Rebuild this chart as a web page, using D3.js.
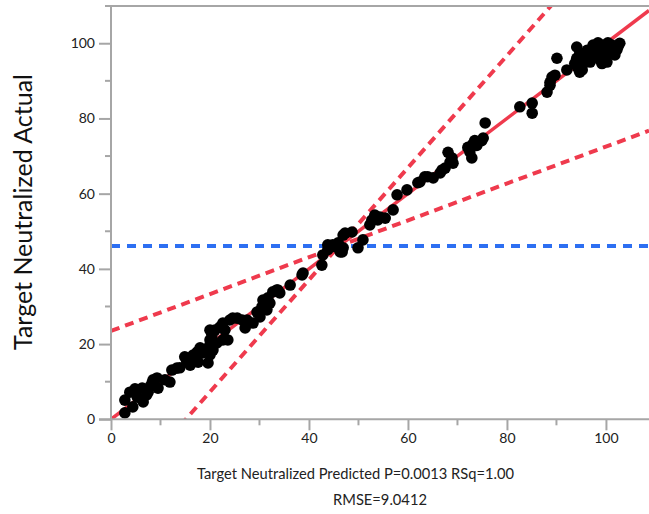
<!DOCTYPE html>
<html>
<head>
<meta charset="utf-8">
<script src="https://cdn.jsdelivr.net/npm/d3@7"></script>
<style>
  html, body { margin: 0; padding: 0; background: #fff; }
  svg { display: block; font-family: Lato, "Open Sans", sans-serif; }
</style>
</head>
<body>
<svg id="chart" width="649" height="514"></svg>
<script>
// Predicted (x) and actual (y) neutralization values for each observation
const predicted = [
  2.8, 2.8, 3.8, 4.4, 5.3, 6.3, 6.5, 7.5, 8.3, 9.3, 9.5, 11.9, 12.3, 13.9, 14.9, 16.0,
  17.4, 17.6, 19.6, 20.0, 20.4, 20.0, 20.6, 22.6,
  4.85, 7.2, 7.9, 8.5, 10.9, 13.3, 15.3, 16.6, 18.3, 19.7, 21.4,
  18.0, 20.0, 20.0, 22.0, 23.0, 23.6, 24.0, 25.5, 27.1, 27.5, 28.7, 29.5, 30.1, 30.7,
  31.5, 32.1, 32.7, 33.7, 34.1, 36.2, 38.6, 38.8, 42.6, 42.8, 43.8, 45.9, 46.3, 46.9,
  21.0, 22.6, 24.6, 26.5, 30.5, 31.7, 33.5, 43.8, 45.3,
  44.8, 46.7, 47.3, 48.7, 49.9, 50.9, 52.3, 53.3, 53.9, 55.4, 57.0, 57.8, 59.8, 62.0,
  63.4, 65.1, 66.5, 67.5, 68.5, 68.1, 69.1, 72.1, 72.9, 73.1, 74.1, 74.9,
  46.9, 52.7, 54.3, 62.4, 64.0, 66.9, 68.9, 73.5, 73.9, 72.5, 75.2,
  75.6, 82.6, 85.1, 85.1, 88.1, 88.7, 89.7, 90.1, 92.1, 94.1, 94.7, 95.2, 96.2, 96.8,
  97.8, 98.4, 99.4, 99.4, 100.4, 101.2, 102.2, 102.8,
  88.7, 89.1, 94.7, 95.4, 94.3, 96.2, 97.2, 98.2, 98.8, 99.8, 100.2, 100.8, 101.4,
  101.8, 102.4, 97.4, 98.4, 100.4, 94.1, 93.7, 94.7, 99.2
];
const actual = [
  1.7, 5.1, 7.2, 3.3, 5.9, 8.3, 4.6, 7.2, 9.7, 11.0, 8.3, 9.9, 13.1, 13.7, 16.6, 14.4,
  17.9, 15.2, 15.0, 19.8, 22.4, 17.1, 18.4, 21.1,
  8.1, 6.5, 8.7, 10.5, 10.5, 13.6, 15.3, 17.1, 17.6, 19.0, 20.3,
  19.0, 21.1, 23.7, 24.5, 23.7, 21.1, 26.4, 26.9, 24.3, 26.4, 25.6, 28.5, 27.2, 31.7,
  29.1, 30.9, 33.9, 34.4, 33.6, 35.7, 38.4, 38.9, 41.0, 43.7, 46.4, 46.9, 44.5, 49.0,
  23.7, 25.6, 26.9, 26.4, 29.9, 32.3, 34.4, 45.1, 45.9,
  46.4, 44.5, 49.5, 49.8, 45.6, 47.7, 51.7, 54.3, 53.0, 53.5, 55.7, 59.7, 61.0, 62.9,
  64.5, 64.2, 65.5, 66.8, 68.4, 71.0, 68.1, 72.3, 69.5, 73.2, 73.5, 74.1,
  45.6, 53.0, 53.8, 63.1, 64.5, 66.3, 69.5, 74.1, 72.8, 71.1, 74.8,
  78.8, 83.1, 84.1, 81.4, 87.0, 89.6, 91.5, 96.0, 92.9, 99.0, 95.6, 92.9, 96.3, 95.0,
  98.7, 99.5, 96.3, 99.5, 98.2, 99.5, 98.2, 100.0,
  88.8, 91.0, 97.3, 94.6, 93.5, 98.1, 96.9, 97.7, 95.6, 98.1, 95.0, 97.3, 98.7,
  96.9, 99.0, 99.5, 100.1, 100.1, 96.0, 94.6, 92.3, 94.6
];

// Axis ticks
const majorTicks = [0, 20, 40, 60, 80, 100];
const minorTicks = [10, 30, 50, 70, 90];

// Fit line (slope, intercept), confidence lines and mean of the response
const fitLine = { slope: 1.0, intercept: 0 };
const confLines = [
  { slope: 0.49, intercept: 23.5 },
  { slope: 1.49, intercept: -22.5 }
];
const meanActual = 46.1;

// Axis titles and summary statistics
const xTitle = "Target Neutralized Predicted P=0.0013 RSq=1.00";
const yTitle = "Target Neutralized Actual";
const statText = "RMSE=9.0412";

const svg = d3.select("#chart");
const plot = { left: 111, right: 649, top: 6, bottom: 419.3 };

const x = d3.scaleLinear().domain([0, 108.7]).range([plot.left, plot.right]);
const y = d3.scaleLinear().domain([0, 109.9]).range([plot.bottom, plot.top]);

const axisColor = "#a6a6a6";
const red = "#ef3a4d";
const blue = "#2d6ff2";

// Clip region for the plotted lines
svg.append("clipPath").attr("id", "plotClip")
  .append("rect")
  .attr("x", plot.left).attr("y", plot.top)
  .attr("width", plot.right - plot.left).attr("height", plot.bottom - plot.top);

const xDom = x.domain();
function lineEnds(l) {
  return [[xDom[0], l.intercept + l.slope * xDom[0]], [xDom[1], l.intercept + l.slope * xDom[1]]];
}
const lineGen = d3.line().x(d => x(d[0])).y(d => y(d[1]));

const lines = svg.append("g").attr("clip-path", "url(#plotClip)");

// Mean reference line
lines.append("path")
  .attr("d", lineGen([[xDom[0], meanActual], [xDom[1], meanActual]]))
  .attr("fill", "none").attr("stroke", blue)
  .attr("stroke-width", 4).attr("stroke-dasharray", "9,7");

// Confidence lines
confLines.forEach(l => {
  lines.append("path")
    .attr("d", lineGen(lineEnds(l)))
    .attr("fill", "none").attr("stroke", red)
    .attr("stroke-width", 4).attr("stroke-dasharray", "9,6");
});

// Fit line
lines.append("path")
  .attr("d", lineGen(lineEnds(fitLine)))
  .attr("fill", "none").attr("stroke", red)
  .attr("stroke-width", 3.5);

// Observations
svg.append("g").selectAll("circle")
  .data(predicted.map((p, i) => [p, actual[i]]))
  .join("circle")
  .attr("cx", d => x(d[0]))
  .attr("cy", d => y(d[1]))
  .attr("r", 5.8)
  .attr("fill", "#000");

// Axes
const xAxis = d3.axisBottom(x).tickValues(majorTicks).tickSize(11).tickPadding(3);
const yAxis = d3.axisLeft(y).tickValues(majorTicks).tickSize(12).tickPadding(4);

const gx = svg.append("g").attr("transform", `translate(0,${plot.bottom})`).call(xAxis);
const gy = svg.append("g").attr("transform", `translate(${plot.left},0)`).call(yAxis);

gx.append("g").selectAll("line").data(minorTicks).join("line")
  .attr("x1", d => x(d)).attr("x2", d => x(d)).attr("y1", 0).attr("y2", 6);
gy.append("g").selectAll("line").data(minorTicks).join("line")
  .attr("y1", d => y(d)).attr("y2", d => y(d)).attr("x1", 0).attr("x2", -6);

[gx, gy].forEach(g => {
  g.select(".domain").remove();
  g.selectAll("line").attr("stroke", axisColor).attr("stroke-width", 2);
  g.selectAll("text").attr("fill", "#222").style("font-size", "14px").style("font-family", "Lato, sans-serif");
});

// Axis frame lines
svg.append("line").attr("x1", plot.left).attr("x2", plot.left)
  .attr("y1", plot.top - 1).attr("y2", plot.bottom + 1)
  .attr("stroke", axisColor).attr("stroke-width", 2);
svg.append("line").attr("x1", plot.left - 12).attr("x2", plot.right)
  .attr("y1", plot.bottom).attr("y2", plot.bottom)
  .attr("stroke", axisColor).attr("stroke-width", 2);
svg.append("line").attr("x1", plot.left - 6).attr("x2", plot.right)
  .attr("y1", plot.top).attr("y2", plot.top)
  .attr("stroke", axisColor).attr("stroke-width", 2);

// Titles
svg.append("text")
  .attr("x", 197).attr("y", 479)
  .attr("fill", "#222").style("font-size", "14.7px")
  .text(xTitle);
svg.append("text")
  .attr("x", (plot.left + plot.right) / 2).attr("y", 505)
  .attr("text-anchor", "middle")
  .attr("fill", "#222").style("font-size", "14.7px")
  .text(statText);
svg.append("text")
  .attr("transform", "translate(32,212) rotate(-90)")
  .attr("text-anchor", "middle")
  .attr("fill", "#111").style("font-size", "25px")
  .text(yTitle);
</script>
</body>
</html>
